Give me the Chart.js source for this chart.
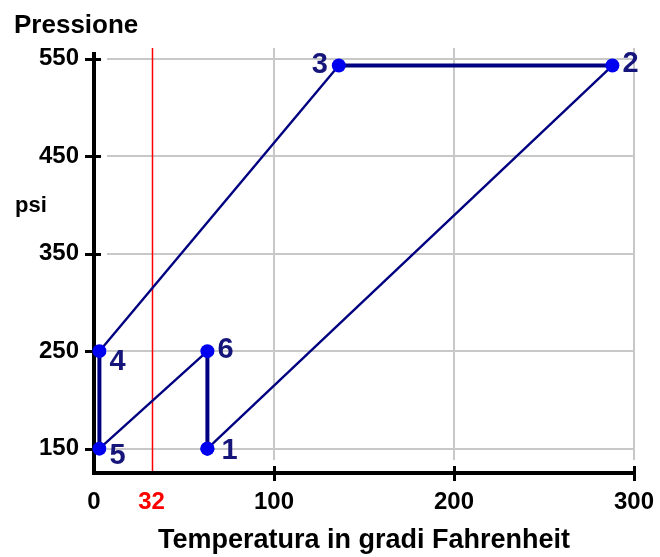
<!DOCTYPE html>
<html>
<head>
<meta charset="utf-8">
<script src="https://cdn.jsdelivr.net/npm/chart.js@4/dist/chart.umd.min.js"></script>
<style>
  body { margin: 0; background: #ffffff; }
</style>
</head>
<body>
<canvas id="cicloChart" width="660" height="557"></canvas>
<script>
// punti del ciclo: temperatura (°F) e pressione (psi)
const etichette = ['1', '2', '3', '4', '5', '6'];
const temperature = [63, 288, 136, 3, 3, 63];
const pressioni = [150, 543, 543, 250, 150, 250];

// tacche degli assi
const tickTemperatura = [0, 32, 100, 200, 300];
const tickPressione = [150, 250, 350, 450, 550];
const lineaGelo = 32;

const FONT = "'Liberation Sans', Arial, sans-serif";

// il ciclo si chiude tornando al punto 1
const punti = temperature.map((t, i) => ({ x: t, y: pressioni[i] }));
punti.push(punti[0]);

// posizione dei numeri accanto ai punti: [dx, dy, allineamento]
const posEtichette = {
    '1': [14, 2, 'left'],
    '2': [10, -2, 'left'],
    '3': [-11, -1, 'right'],
    '4': [10, 11, 'left'],
    '5': [10, 7, 'left'],
    '6': [10, -1, 'left']
};

const assi = {
    id: 'assi',
    beforeDatasetsDraw(chart) {
        const { ctx, chartArea, scales: { x, y } } = chart;
        const destra = x.getPixelForValue(300);
        ctx.save();

        // griglia grigia, staccata dagli assi
        ctx.strokeStyle = '#c8c8c8';
        ctx.lineWidth = 2;
        ctx.beginPath();
        tickPressione.forEach(v => {
            const py = Math.round(y.getPixelForValue(v));
            ctx.moveTo(chartArea.left + 13, py);
            ctx.lineTo(destra, py);
        });
        tickTemperatura.filter(v => v >= 100).forEach(v => {
            const px = Math.round(x.getPixelForValue(v));
            ctx.moveTo(px, chartArea.top);
            ctx.lineTo(px, chartArea.bottom - 13);
        });
        ctx.stroke();

        // 32 °F in rosso
        const pg = Math.round(x.getPixelForValue(lineaGelo)) + 0.5;
        ctx.strokeStyle = '#ff0000';
        ctx.lineWidth = 1.5;
        ctx.beginPath();
        ctx.moveTo(pg, chartArea.top);
        ctx.lineTo(pg, chartArea.bottom);
        ctx.stroke();

        // assi neri con le tacche
        ctx.strokeStyle = '#000000';
        ctx.lineWidth = 4;
        ctx.beginPath();
        ctx.moveTo(chartArea.left, chartArea.top + 4);
        ctx.lineTo(chartArea.left, chartArea.bottom + 2);
        ctx.moveTo(chartArea.left - 2, chartArea.bottom);
        ctx.lineTo(destra + 2, chartArea.bottom);
        ctx.stroke();
        ctx.lineWidth = 3;
        ctx.beginPath();
        tickPressione.forEach(v => {
            const py = Math.round(y.getPixelForValue(v)) + 0.5;
            ctx.moveTo(chartArea.left - 9, py);
            ctx.lineTo(chartArea.left + 7, py);
        });
        tickTemperatura.filter(v => v >= 100).forEach(v => {
            const px = Math.round(x.getPixelForValue(v)) + 0.5;
            ctx.moveTo(px, chartArea.bottom - 7);
            ctx.lineTo(px, chartArea.bottom + 8);
        });
        ctx.stroke();
        ctx.restore();
    },
    afterDatasetsDraw(chart) {
        const { ctx } = chart;
        const meta = chart.getDatasetMeta(0);
        ctx.save();

        // numeri dei punti
        ctx.fillStyle = '#16167a';
        ctx.font = 'bold 29px ' + FONT;
        ctx.textBaseline = 'middle';
        etichette.forEach((nome, i) => {
            const p = meta.data[i];
            const [dx, dy, al] = posEtichette[nome];
            ctx.textAlign = al;
            ctx.fillText(nome, p.x + dx, p.y + dy);
        });

        // titolo dell'asse verticale
        ctx.fillStyle = '#000000';
        ctx.textAlign = 'left';
        ctx.textBaseline = 'alphabetic';
        ctx.font = 'bold 26px ' + FONT;
        ctx.fillText('Pressione', 14, 33);
        ctx.font = 'bold 22px ' + FONT;
        ctx.fillText('psi', 15, 212);
        ctx.restore();
    }
};

new Chart(document.getElementById('cicloChart'), {
    type: 'scatter',
    data: {
        datasets: [{
            data: punti,
            showLine: true,
            borderColor: '#000080',
            borderWidth: 2.4,
            segment: {
                // tratti verticali e orizzontali più spessi
                borderWidth: ctx => (ctx.p0.parsed.x === ctx.p1.parsed.x || ctx.p0.parsed.y === ctx.p1.parsed.y) ? 4 : 2.4
            },
            pointRadius: 7,
            pointBackgroundColor: '#0000f0',
            pointBorderWidth: 0,
            clip: false
        }]
    },
    options: {
        responsive: false,
        animation: false,
        layout: {
            padding: { top: 48, right: 26, bottom: 0, left: 0 }
        },
        plugins: {
            legend: { display: false },
            tooltip: { enabled: false }
        },
        scales: {
            x: {
                type: 'linear',
                min: 0,
                max: 300,
                afterBuildTicks: scale => { scale.ticks = tickTemperatura.map(v => ({ value: v })); },
                afterFit: scale => {
                    scale.height = 84;
                    scale.paddingLeft = 0;
                    scale.paddingRight = 0;
                },
                grid: { display: false, drawTicks: false },
                border: { display: false },
                ticks: {
                    autoSkip: false,
                    maxRotation: 0,
                    padding: 15,
                    color: ctx => ctx.tick.value === lineaGelo ? '#ff0000' : '#000000',
                    font: { family: FONT, size: 24, weight: 'bold' }
                },
                title: {
                    display: true,
                    text: 'Temperatura in gradi Fahrenheit',
                    color: '#000000',
                    padding: { top: 0, bottom: 0 },
                    font: { family: FONT, size: 27, weight: 'bold' }
                }
            },
            y: {
                type: 'linear',
                min: 125,
                max: 561,
                afterBuildTicks: scale => { scale.ticks = tickPressione.map(v => ({ value: v })); },
                afterFit: scale => { scale.width = 94; },
                grid: { display: false, drawTicks: false },
                border: { display: false },
                ticks: {
                    autoSkip: false,
                    padding: 15,
                    color: '#000000',
                    font: { family: FONT, size: 24, weight: 'bold' }
                }
            }
        }
    },
    plugins: [assi]
});
</script>
</body>
</html>
